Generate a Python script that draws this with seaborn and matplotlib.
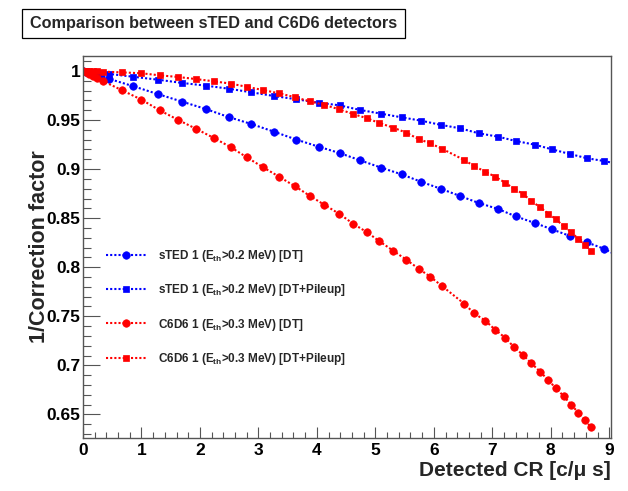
import numpy as np
import pandas as pd
import matplotlib
matplotlib.use("Agg")
import matplotlib.pyplot as plt
import seaborn as sns
from matplotlib.ticker import MultipleLocator, FuncFormatter
from matplotlib.patches import Rectangle

# ---------------- data ----------------
blue_x = [0.0, 0.05, 0.1, 0.2, 0.3, 0.44, 0.85, 1.29, 1.70, 2.10, 2.49, 2.88, 3.27, 3.65,
          4.03, 4.39, 4.74, 5.10, 5.45, 5.78, 6.13, 6.45, 6.77, 7.10, 7.40, 7.73, 8.02,
          8.33, 8.62, 8.91, 9.20]
sted_dt = [1.0, 0.999, 0.998, 0.996, 0.994, 0.992, 0.9846, 0.9762, 0.9686, 0.9612, 0.953,
           0.9459, 0.938, 0.930, 0.9228, 0.9163, 0.9089, 0.9014, 0.8946, 0.8871, 0.8797,
           0.8725, 0.8654, 0.8593, 0.8518, 0.845, 0.8386, 0.8318, 0.8253, 0.8188, 0.810]
sted_pu = [1.0, 0.9997, 0.9994, 0.9988, 0.9982, 0.997, 0.9941, 0.991, 0.9877, 0.985, 0.9819,
           0.9782, 0.9744, 0.9711, 0.9676, 0.9649, 0.9602, 0.9564, 0.9527, 0.9493, 0.9449,
           0.9415, 0.9364, 0.933, 0.9286, 0.9248, 0.9201, 0.9153, 0.911, 0.9082, 0.9045]

red_x = [0.0, 0.05, 0.1, 0.17, 0.24, 0.34, 0.67, 1.0, 1.31, 1.63, 1.93, 2.24, 2.53, 2.80,
         3.08, 3.36, 3.63, 3.88, 4.13, 4.38, 4.62, 4.86, 5.07, 5.31, 5.53, 5.74, 5.94, 6.14,
         6.52, 6.69, 6.88, 7.05, 7.22, 7.37, 7.52, 7.67, 7.82, 7.96, 8.09, 8.22, 8.35, 8.47,
         8.58, 8.69]
c6d6_dt = [1.0, 0.9985, 0.997, 0.995, 0.9928, 0.9897, 0.9802, 0.9707, 0.9599, 0.95, 0.9411,
           0.9316, 0.9222, 0.912, 0.9018, 0.892, 0.8823, 0.8727, 0.8635, 0.8545, 0.8443,
           0.8355, 0.8264, 0.8166, 0.8076, 0.7985, 0.7903, 0.7808, 0.7628, 0.753, 0.7455,
           0.7363, 0.7281, 0.7187, 0.7108, 0.702, 0.6935, 0.6847, 0.6766, 0.6687, 0.6599,
           0.6519, 0.6443, 0.6368]
c6d6_pu = [1.0, 0.9999, 0.9998, 0.9997, 0.9996, 0.9993, 0.9985, 0.9976, 0.9955, 0.9938,
           0.9917, 0.9894, 0.987, 0.9838, 0.9805, 0.9771, 0.9731, 0.969, 0.9653, 0.9609,
           0.9561, 0.9517, 0.9469, 0.9421, 0.937, 0.9306, 0.9262, 0.9207, 0.9092, 0.9031,
           0.8973, 0.8922, 0.8861, 0.88, 0.8749, 0.8674, 0.861, 0.8545, 0.8488, 0.8417,
           0.8355, 0.829, 0.8226, 0.8165]

labels = [r"sTED 1 (E$_{\mathregular{th}}$>0.2 MeV) [DT]",
          r"sTED 1 (E$_{\mathregular{th}}$>0.2 MeV) [DT+Pileup]",
          r"C6D6 1 (E$_{\mathregular{th}}$>0.3 MeV) [DT]",
          r"C6D6 1 (E$_{\mathregular{th}}$>0.3 MeV) [DT+Pileup]"]
title = "Comparison between sTED and C6D6 detectors"
xlabel = "Detected CR [c/\u03bc s]"
ylabel = "1/Correction factor"

series = [(blue_x, sted_dt, "#0000ff", "o", 5.4),
          (blue_x, sted_pu, "#0000ff", "s", 5.0),
          (red_x, c6d6_dt, "#ff0000", "o", 5.4),
          (red_x, c6d6_pu, "#ff0000", "s", 5.0)]

# ---------------- style ----------------
sns.set_theme(style="white")
plt.rcParams["font.family"] = ["Liberation Sans", "DejaVu Sans"]
plt.rcParams["font.weight"] = "bold"
plt.rcParams["mathtext.fontset"] = "custom"
plt.rcParams["mathtext.rm"] = "Liberation Sans:bold"
plt.rcParams["mathtext.bf"] = "Liberation Sans:bold"
plt.rcParams["mathtext.it"] = "Liberation Sans:bold"

W, H = 628, 491
fig = plt.figure(figsize=(W / 100, H / 100), dpi=100)
fig.patch.set_facecolor("white")
ax = fig.add_axes([83 / W, 1 - 437.7 / H, 528 / W, 382 / H])
ax.set_facecolor("white")

for xs, ys, col, mk, ms in series:
    df = pd.DataFrame({"x": xs, "y": ys})
    sns.lineplot(data=df, x="x", y="y", ax=ax, color=col, marker=mk, markersize=ms,
                 markeredgecolor=col, markeredgewidth=0.5, linestyle=(0, (1, 1)),
                 linewidth=1.5, sort=False, estimator=None, legend=False)

ax.set_xlim(0, 9.03)
ax.set_ylim(0.6263, 1.0155)

ax.xaxis.set_major_locator(MultipleLocator(1))
ax.xaxis.set_minor_locator(MultipleLocator(0.2))
ax.yaxis.set_major_locator(MultipleLocator(0.05))
ax.yaxis.set_minor_locator(MultipleLocator(0.01))
ax.yaxis.set_major_formatter(FuncFormatter(lambda v, p: ("%.2f" % v).rstrip("0").rstrip(".")))
ax.xaxis.set_major_formatter(FuncFormatter(lambda v, p: "%d" % round(v)))

tc = "#555555"
ax.tick_params(axis="y", which="major", direction="in", length=12, width=0.8, color=tc,
               left=True, right=False, labelsize=12.5, pad=2, labelcolor="black")
ax.tick_params(axis="y", which="minor", direction="in", length=6, width=0.8, color=tc,
               left=True, right=False)
ax.tick_params(axis="x", which="major", direction="in", length=8, width=0.8, color=tc,
               bottom=True, top=False, labelsize=12.5, pad=3.5, labelcolor="black")
ax.tick_params(axis="x", which="minor", direction="in", length=4, width=0.8, color=tc,
               bottom=True, top=False)
for lab in ax.get_xticklabels() + ax.get_yticklabels():
    lab.set_fontweight("bold")
for s in ax.spines.values():
    s.set_color(tc)
    s.set_linewidth(1.0)
    s.set_visible(True)

ax.set_xlabel(xlabel, fontsize=15, fontweight="bold", loc="right")
ax.xaxis.set_label_coords(1.0, -0.06)
ax.set_ylabel(ylabel, fontsize=15.5, fontweight="bold")
ax.yaxis.set_label_coords(-0.062, 0.5)

leg = ax.legend(handles=ax.lines[:4], labels=labels, loc="upper left",
                bbox_to_anchor=(106 / W, 1 - 248 / H), bbox_transform=fig.transFigure,
                frameon=False, fontsize=8.5, handlelength=3.4, handletextpad=1.0,
                labelspacing=1.55, borderpad=0, borderaxespad=0, numpoints=1)
for t in leg.get_texts():
    t.set_fontweight("bold")

# title box
fig.add_artist(Rectangle((22 / W, 1 - 38 / H), 383 / W, 29 / H, transform=fig.transFigure,
                         facecolor="white", edgecolor="black", linewidth=0.9))
fig.text(213.5 / W, 1 - 23.5 / H, title, ha="center", va="center", fontsize=11.7,
         fontweight="bold")

fig.savefig("out.png", dpi=100)
